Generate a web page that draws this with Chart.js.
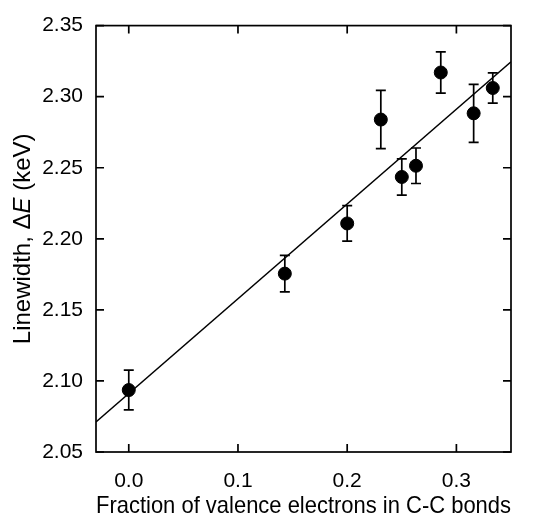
<!DOCTYPE html>
<html>
<head>
<meta charset="utf-8">
<script src="https://cdn.jsdelivr.net/npm/chart.js@4/dist/chart.umd.min.js"></script>
<style>
	html, body { margin: 0; padding: 0; background: #fff; }
	#wrap { width: 543px; height: 521px; }
</style>
</head>
<body>
<div id="wrap"><canvas id="linewidth"></canvas></div>
<script>
// fraction of valence electrons in C-C bonds
const fraction = [0.0, 0.1429, 0.2, 0.2308, 0.25, 0.263, 0.2857, 0.3158, 0.3333];
// linewidth, keV
const linewidth = [2.0936, 2.1755, 2.2108, 2.2839, 2.2435, 2.2514, 2.317, 2.2883, 2.3061];
// error bar half-heights, keV
const linewidthErr = [0.014, 0.0128, 0.0125, 0.0205, 0.0128, 0.0125, 0.0145, 0.0204, 0.0107];
// fitted straight line, read at the frame edges
const fitX = [-0.03, 0.35];
const fitY = [2.0711, 2.3245];

const xTicks = [0.0, 0.1, 0.2, 0.3];
const yTicks = [2.05, 2.10, 2.15, 2.20, 2.25, 2.30, 2.35];

const fontFamily = "'Liberation Sans', Arial, Helvetica, sans-serif";
const titleSize = 24;

// рамка, внутренние засечки, погрешности и подпись оси Y
const framePlugin = {
	id: "framePlugin",
	afterDatasetsDraw(chart) {
		const { ctx, chartArea: a, scales } = chart;
		const x = scales.x;
		const y = scales.y;
		ctx.save();
		ctx.strokeStyle = "#000";

		// error bars
		ctx.lineWidth = 1.7;
		fraction.forEach((fx, i) => {
			const px = x.getPixelForValue(fx);
			const top = y.getPixelForValue(linewidth[i] + linewidthErr[i]);
			const bot = y.getPixelForValue(linewidth[i] - linewidthErr[i]);
			ctx.beginPath();
			ctx.moveTo(px, top);
			ctx.lineTo(px, bot);
			ctx.moveTo(px - 5, top);
			ctx.lineTo(px + 5, top);
			ctx.moveTo(px - 5, bot);
			ctx.lineTo(px + 5, bot);
			ctx.stroke();
		});

		// frame
		ctx.lineWidth = 1.7;
		ctx.strokeRect(a.left, a.top, a.right - a.left, a.bottom - a.top);

		// inward ticks on all four sides
		const tl = 8;
		ctx.beginPath();
		xTicks.forEach((v) => {
			const px = x.getPixelForValue(v);
			ctx.moveTo(px, a.bottom);
			ctx.lineTo(px, a.bottom - tl);
			ctx.moveTo(px, a.top);
			ctx.lineTo(px, a.top + tl);
		});
		yTicks.forEach((v) => {
			const py = y.getPixelForValue(v);
			ctx.moveTo(a.left, py);
			ctx.lineTo(a.left + tl, py);
			ctx.moveTo(a.right, py);
			ctx.lineTo(a.right - tl, py);
		});
		ctx.stroke();

		// y title with italic E
		const parts = [
			{ t: "Linewidth, Δ", f: titleSize + "px " + fontFamily },
			{ t: "E", f: "italic " + titleSize + "px " + fontFamily },
			{ t: " (keV)", f: titleSize + "px " + fontFamily },
		];
		let total = 0;
		parts.forEach((p) => {
			ctx.font = p.f;
			p.w = ctx.measureText(p.t).width;
			total += p.w;
		});
		ctx.translate(23, (a.top + a.bottom) / 2);
		ctx.rotate(-Math.PI / 2);
		ctx.fillStyle = "#000";
		ctx.textBaseline = "middle";
		ctx.textAlign = "left";
		let cx = -total / 2;
		parts.forEach((p) => {
			ctx.font = p.f;
			ctx.fillText(p.t, cx, 0);
			cx += p.w;
		});
		ctx.restore();
	},
};

const config = {
	type: "scatter",
	data: {
		datasets: [
			{
				type: "line",
				data: fitX.map((v, i) => ({ x: v, y: fitY[i] })),
				borderColor: "#000",
				borderWidth: 1.4,
				pointRadius: 0,
				fill: false,
			},
			{
				data: fraction.map((v, i) => ({ x: v, y: linewidth[i] })),
				backgroundColor: "#000",
				borderColor: "#000",
				pointRadius: 6.5,
				pointHoverRadius: 6.5,
			},
		],
	},
	options: {
		responsive: true,
		maintainAspectRatio: false,
		animation: false,
		events: [],
		layout: {
			padding: { top: 21, right: 32, bottom: 0, left: 0 },
		},
		plugins: {
			legend: { display: false },
			tooltip: { enabled: false },
		},
		scales: {
			x: {
				type: "linear",
				min: -0.03,
				max: 0.35,
				afterBuildTicks: (axis) => {
					axis.ticks = xTicks.map((v) => ({ value: v }));
				},
				afterFit: (axis) => {
					axis.height = 69;
				},
				grid: { display: false, drawTicks: false },
				border: { display: false },
				ticks: {
					padding: 17,
					color: "#000",
					font: { family: fontFamily, size: 21 },
					callback: (v) => Number(v).toFixed(1),
				},
				title: {
					display: true,
					text: "Fraction of valence electrons in C-C bonds",
					color: "#000",
					font: { family: fontFamily, size: titleSize },
					padding: { top: 4, bottom: 0 },
				},
			},
			y: {
				type: "linear",
				min: 2.05,
				max: 2.35,
				afterBuildTicks: (axis) => {
					axis.ticks = yTicks.map((v) => ({ value: v }));
				},
				afterFit: (axis) => {
					axis.width = 96;
				},
				grid: { display: false, drawTicks: false },
				border: { display: false },
				ticks: {
					padding: 13,
					color: "#000",
					font: { family: fontFamily, size: 21 },
					callback: (v) => Number(v).toFixed(2),
				},
			},
		},
	},
	plugins: [framePlugin],
};

new Chart(document.getElementById("linewidth"), config);
</script>
</body>
</html>
